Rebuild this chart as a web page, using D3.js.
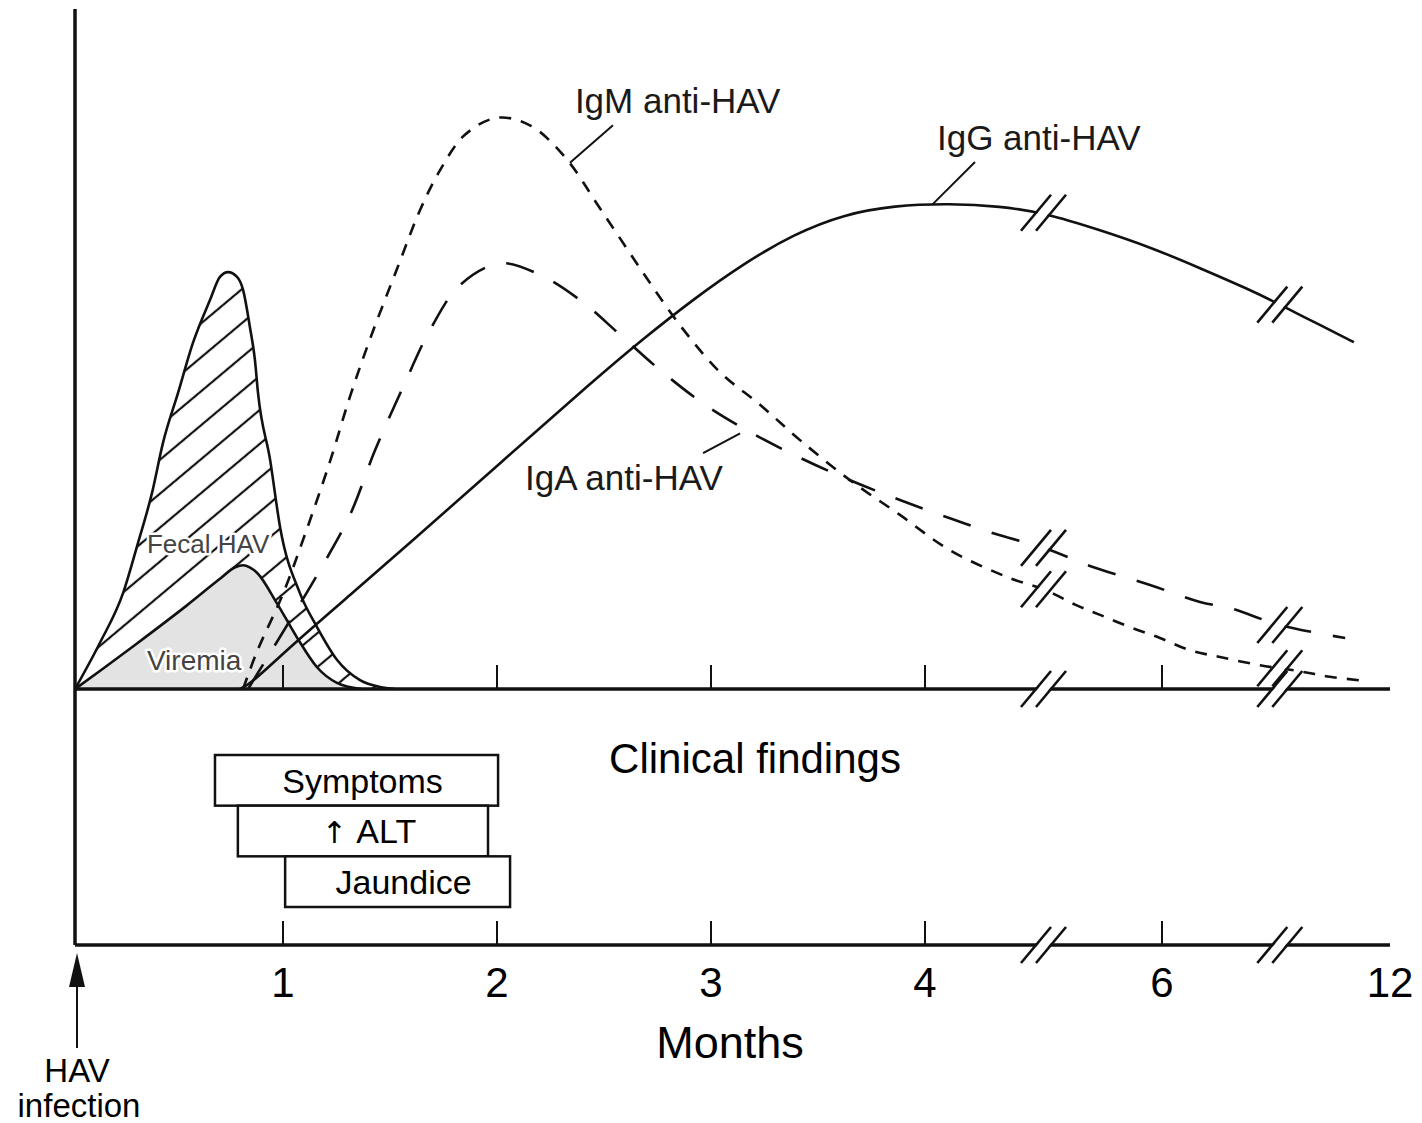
<!DOCTYPE html>
<html lang="en">
<head>
<meta charset="utf-8">
<title>HAV infection course</title>
<style>
  body { margin: 0; background: #fff; }
  svg { display: block; font-family: "Liberation Sans", Arial, sans-serif; }
  .axis { fill: none; stroke: #111; stroke-width: 3.5px; }
  .tick { stroke: #111; stroke-width: 2px; }
  .curve { fill: none; stroke: #111; stroke-width: 2.6px; }
  .outline { fill: none; stroke: #111; stroke-width: 2.6px; }
  .leader { stroke: #111; stroke-width: 2px; }
  .label { font-size: 35px; fill: #1a1a1a; }
  .small { fill: #444; stroke: #fff; stroke-width: 5px; paint-order: stroke; stroke-linejoin: round; }
  .box { fill: #fff; stroke: #111; stroke-width: 2.5px; }
</style>
</head>
<body>
<svg width="1422" height="1123"></svg>
<script src="https://d3js.org/d3.v7.min.js"></script>
<script>
// [months, relative level 0-100]
var fecalHAV = [[0,0],[0.12,6.8],[0.231,14.1],[0.303,21.5],[0.37,28.8],[0.423,36.2],[0.495,43.5],
  [0.567,50.9],[0.649,57.2],[0.697,60.6],[0.736,61.3],[0.779,60.6],[0.808,58.7],[0.841,53.2],
  [0.865,48.4],[0.88,43.5],[0.938,33.7],[0.986,23.8],[1.079,14.1],[1.159,9.1],[1.252,4.3],
  [1.36,1.3],[1.453,0.3],[1.523,0]];
var viremia = [[0,0],[0.144,3.2],[0.298,6.7],[0.538,12.3],[0.697,16.2],[0.77,17.9],[0.808,18.2],
  [0.84,17.9],[0.875,17.1],[0.971,12.6],[1.065,7.6],[1.159,3.2],[1.252,0.9],[1.364,0]];
var igM = [[0.808,0],[0.875,5.5],[1.0,14.0],[1.1,22.5],[1.22,33.5],[1.313,43.0],[1.407,51.5],
  [1.533,61.8],[1.64,70.4],[1.734,76.3],[1.85,81.5],[2.0,84.0],[2.154,82.9],
  [2.318,78.2],[2.481,70.7],[2.668,61.9],[2.855,53.5],[3.042,46.6],[3.229,41.8],[3.416,36.6],
  [3.65,30.7],[3.883,25.6],[4.211,20.4],[4.717,16.3],[5.013,14.6],[5.266,12.4],[5.477,10.9],
  [5.73,9.1],[5.983,7.5],[6.737,5.7],[7.526,4.7],[8.579,3.5],[9.632,2.6],[10.42,1.8],[11.34,1.2]];
var igA = [[0.832,0],[1.033,10.1],[1.173,17.5],[1.313,25.6],[1.43,35.1],[1.561,44.4],[1.687,52.8],
  [1.827,59.4],[2.014,62.6],[2.201,60.9],[2.388,57.2],[2.575,52.1],[2.762,46.9],[2.972,41.8],
  [3.182,37.8],[3.416,34.0],[3.65,30.7],[3.883,27.8],[4.211,25.1],[4.633,22.6],[5.013,20.7],
  [5.392,18.1],[5.899,15.3],[7.0,12.8],[7.79,11.9],[9.105,9.4],[10.82,7.5]];
var igG = [[0.793,0],[0.85,0.9],[1.033,6.2],[1.313,13.8],[1.594,21.5],[2.014,33.2],[2.453,45.4],
  [2.687,51.6],[2.921,57.4],[3.154,62.6],[3.388,66.9],[3.621,69.8],[3.855,71.1],[4.211,71.4],
  [4.633,71.0],[5.013,70.0],[5.477,67.5],[5.899,65.0],[7.0,61.9],[8.316,58.7],[8.974,56.9],
  [9.632,55.0],[10.95,51.3],[11.05,51.0]];

var tickMonths = [1, 2, 3, 4, 6];
var tickLabels = ["1", "2", "3", "4", "6", "12"];
var labelMonths = [1, 2, 3, 4, 6, 12];
var breakMonths = [5, 9.1];

var clinical = ["Symptoms", "ALT", "Jaundice"];
var clinStart = [0.673, 0.783, 1.01];
var clinEnd = [2.005, 1.958, 2.061];

var svg = d3.select("svg");

// broken time axis: 0-4 months evenly, then compressed
var x = d3.scaleLinear()
  .domain([0, 1, 2, 3, 4, 6, 12])
  .range([75, 283, 497, 711, 925, 1162, 1390]);
var y = d3.scaleLinear().domain([0, 100]).range([689, 9]);
var lowerY = 945;
var rows = d3.scaleBand().domain(clinical).range([755, 907]);

// hatch pattern for fecal HAV
var defs = svg.append("defs");
var pat = defs.append("pattern")
  .attr("id", "hatch")
  .attr("patternUnits", "userSpaceOnUse")
  .attr("width", 26).attr("height", 26)
  .attr("patternTransform", "rotate(-40)");
pat.append("line")
  .attr("x1", -2).attr("x2", 28).attr("y1", 13).attr("y2", 13)
  .attr("stroke", "#111").attr("stroke-width", 2.2);

var area = d3.area()
  .x(function(d) { return x(d[0]); })
  .y0(y(0))
  .y1(function(d) { return y(d[1]); })
  .curve(d3.curveMonotoneX);

var line = d3.line()
  .x(function(d) { return x(d[0]); })
  .y(function(d) { return y(d[1]); })
  .curve(d3.curveMonotoneX);

var smooth = d3.line()
  .x(function(d) { return x(d[0]); })
  .y(function(d) { return y(d[1]); })
  .curve(d3.curveCatmullRom.alpha(0.5));

var spline = d3.line()
  .x(function(d) { return x(d[0]); })
  .y(function(d) { return y(d[1]); })
  .curve(d3.curveBasis);

svg.append("path").attr("d", area(fecalHAV)).attr("fill", "url(#hatch)");
svg.append("path").attr("d", area(viremia)).attr("fill", "#e3e3e3");
svg.append("path").attr("class", "outline").attr("d", line(fecalHAV));
svg.append("path").attr("class", "outline").attr("d", line(viremia));

svg.append("path").attr("class", "curve").attr("d", spline(igG));
svg.append("path").attr("class", "curve").attr("d", smooth(igA))
  .attr("stroke-dasharray", "29,22");
svg.append("path").attr("class", "curve").attr("d", smooth(igM))
  .attr("stroke-dasharray", "12,10");

// axes
svg.append("line").attr("class", "axis")
  .attr("x1", x(0)).attr("x2", x(0)).attr("y1", y(100)).attr("y2", lowerY);
svg.append("line").attr("class", "axis")
  .attr("x1", x(0)).attr("x2", x(12)).attr("y1", y(0)).attr("y2", y(0));
svg.append("line").attr("class", "axis")
  .attr("x1", x(0)).attr("x2", x(12)).attr("y1", lowerY).attr("y2", lowerY);

[y(0), lowerY].forEach(function(base) {
  svg.selectAll(null).data(tickMonths).enter().append("line")
    .attr("class", "tick")
    .attr("x1", function(d) { return x(d); })
    .attr("x2", function(d) { return x(d); })
    .attr("y1", base).attr("y2", base - 24);
});

svg.selectAll(null).data(labelMonths).enter().append("text")
  .attr("x", function(d) { return x(d); })
  .attr("y", 997)
  .attr("text-anchor", "middle")
  .style("font-size", "42px")
  .text(function(d, i) { return tickLabels[i]; });

svg.append("text").attr("x", 730).attr("y", 1058)
  .attr("text-anchor", "middle").style("font-size", "45px").text("Months");

// HAV infection arrow
svg.append("line").attr("class", "leader")
  .attr("x1", x(0) + 2).attr("x2", x(0) + 2).attr("y1", 1048).attr("y2", 975)
  .attr("stroke-width", 2.5);
svg.append("path")
  .attr("d", d3.line()([[x(0) + 2, 953], [x(0) - 6, 987], [x(0) + 10, 987]]) + "Z")
  .attr("fill", "#111");
svg.append("text").attr("x", x(0) + 2).attr("y", 1082)
  .attr("text-anchor", "middle").style("font-size", "33px").text("HAV");
svg.append("text").attr("x", x(0) + 4).attr("y", 1117)
  .attr("text-anchor", "middle").style("font-size", "33px").text("infection");

// interpolate a series at month m
function valueAt(series, m) {
  for (var i = 1; i < series.length; i++) {
    if (series[i][0] >= m) {
      var a = series[i - 1], b = series[i];
      return a[1] + (b[1] - a[1]) * (m - a[0]) / (b[0] - a[0]);
    }
  }
  return series[series.length - 1][1];
}

// break marks
var breakPts = [];
breakMonths.forEach(function(m) {
  [igG, igA, igM].forEach(function(s) {
    breakPts.push([x(m), y(valueAt(s, m))]);
  });
  breakPts.push([x(m), y(0)]);
  breakPts.push([x(m), lowerY]);
});

var bx = 15, by = -18;
breakPts.forEach(function(p) {
  svg.append("line")
    .attr("x1", p[0] - bx * 0.8).attr("y1", p[1] - by * 0.8)
    .attr("x2", p[0] + bx * 0.8).attr("y2", p[1] + by * 0.8)
    .attr("stroke", "#fff").attr("stroke-width", 9);
  [-7.5, 7.5].forEach(function(off) {
    svg.append("line")
      .attr("x1", p[0] + off - bx).attr("y1", p[1] - by)
      .attr("x2", p[0] + off + bx).attr("y2", p[1] + by)
      .attr("stroke", "#111").attr("stroke-width", 2.6);
  });
});

// curve labels with leaders, in data units
var labels = [
  { text: "IgM anti-HAV", at: [2.364, 84.7], lead: [[2.542, 82.9], [2.341, 77.4]] },
  { text: "IgG anti-HAV", at: [4.101, 79.3], lead: [[4.422, 77.5], [4.059, 71.2]] },
  { text: "IgA anti-HAV", at: [2.131, 29.3], lead: [[2.963, 34.7], [3.136, 37.6]] }
];
labels.forEach(function(l) {
  svg.append("line").attr("class", "leader")
    .attr("x1", x(l.lead[0][0])).attr("y1", y(l.lead[0][1]))
    .attr("x2", x(l.lead[1][0])).attr("y2", y(l.lead[1][1]));
  svg.append("text").attr("class", "label")
    .attr("x", x(l.at[0])).attr("y", y(l.at[1])).text(l.text);
});

svg.append("text").attr("class", "small")
  .attr("x", x(0.346)).attr("y", y(20)).style("font-size", "26px").text("Fecal HAV");
svg.append("text").attr("class", "small")
  .attr("x", x(0.346)).attr("y", y(2.8)).style("font-size", "28px")
  .attr("stroke", "#e3e3e3").text("Viremia");

// clinical findings
svg.append("text").attr("x", 755).attr("y", 773)
  .attr("text-anchor", "middle").style("font-size", "42px").text("Clinical findings");

var boxes = svg.selectAll("g.clin").data(clinical).enter().append("g").attr("class", "clin");
boxes.append("rect").attr("class", "box")
  .attr("x", function(d, i) { return x(clinStart[i]); })
  .attr("y", function(d) { return rows(d); })
  .attr("width", function(d, i) { return x(clinEnd[i]) - x(clinStart[i]); })
  .attr("height", rows.bandwidth());
var boxText = boxes.append("text")
  .attr("x", function(d, i) { return (x(clinStart[i]) + x(clinEnd[i])) / 2 + 6; })
  .attr("y", function(d) { return rows(d) + rows.bandwidth() / 2; })
  .attr("dy", "0.36em")
  .attr("text-anchor", "middle")
  .style("font-size", "34px");
boxText.filter(function(d) { return d === "ALT"; }).append("tspan")
  .style("font-family", "'DejaVu Sans', sans-serif")
  .style("font-size", "30px")
  .text("\u2191 ");
boxText.append("tspan").text(function(d) { return d; });
</script>
</body>
</html>
